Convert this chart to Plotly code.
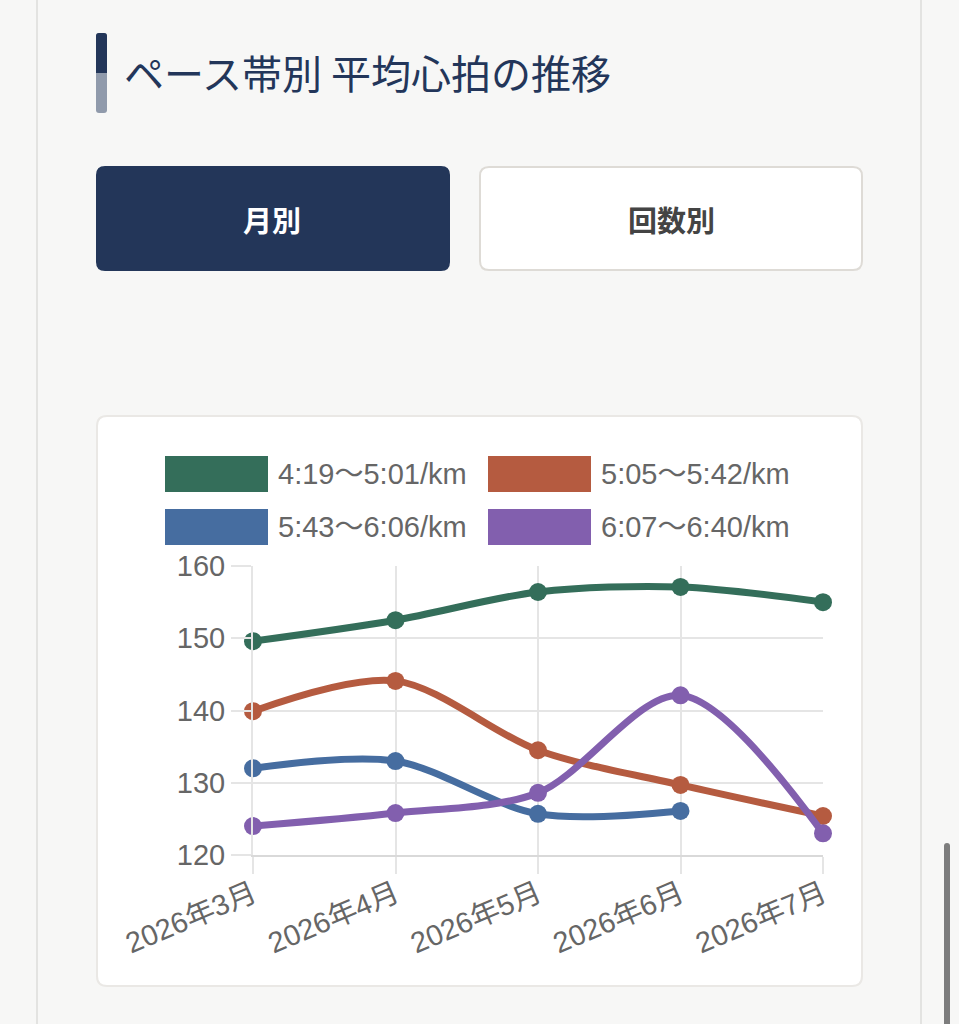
import plotly.graph_objects as go

# ---- data ----
months = ["2026年3月", "2026年4月", "2026年5月", "2026年6月", "2026年7月"]
series_names = ["4:19〜5:01/km", "5:05〜5:42/km", "5:43〜6:06/km", "6:07〜6:40/km"]
pace_a = [149.6, 152.5, 156.4, 157.1, 155.0]
pace_b = [139.9, 144.1, 134.5, 129.7, 125.4]
pace_c = [132.0, 133.0, 125.7, 126.1, None]
pace_d = [124.0, 125.8, 128.6, 142.1, 123.0]
series_values = [pace_a, pace_b, pace_c, pace_d]
series_colors = ["#346e5a", "#b55b40", "#466da0", "#825fae"]
y_ticks = [120, 130, 140, 150, 160]
title_text = "ペース帯別 平均心拍の推移"
button_labels = ["月別", "回数別"]

W, H = 959, 1024


def px(x):
    return x / W


def py(y):
    return 1 - y / H


def rrect(x0, y0, x1, y1, r):
    pts = [
        f"M {px(x0 + r)},{py(y0)}",
        f"L {px(x1 - r)},{py(y0)}",
        f"Q {px(x1)},{py(y0)} {px(x1)},{py(y0 + r)}",
        f"L {px(x1)},{py(y1 - r)}",
        f"Q {px(x1)},{py(y1)} {px(x1 - r)},{py(y1)}",
        f"L {px(x0 + r)},{py(y1)}",
        f"Q {px(x0)},{py(y1)} {px(x0)},{py(y1 - r)}",
        f"L {px(x0)},{py(y0 + r)}",
        f"Q {px(x0)},{py(y0)} {px(x0 + r)},{py(y0)}",
        "Z",
    ]
    return " ".join(pts)


fig = go.Figure()

for name, vals, col in zip(series_names, series_values, series_colors):
    fig.add_trace(go.Scatter(
        x=months, y=vals, name=name, mode="lines+markers",
        line=dict(color=col, width=7, shape="spline", smoothing=0.9),
        marker=dict(color=col, size=18),
        connectgaps=False, showlegend=False, hoverinfo="skip", cliponaxis=False,
    ))

shapes = []
# page side lines
shapes.append(dict(type="line", xref="paper", yref="paper", x0=px(37), x1=px(37), y0=0, y1=1,
                   line=dict(color="#e3e3e1", width=2), layer="below"))
shapes.append(dict(type="line", xref="paper", yref="paper", x0=px(921), x1=px(921), y0=0, y1=1,
                   line=dict(color="#e3e3e1", width=2), layer="below"))
# scrollbar
shapes.append(dict(type="path", xref="paper", yref="paper", path=rrect(944, 843, 950, 1030, 3),
                   fillcolor="#7d7d7d", line=dict(width=0), layer="below"))
# title bar
shapes.append(dict(type="path", xref="paper", yref="paper", path=rrect(96, 33, 107, 113, 3),
                   fillcolor="#909aab", line=dict(width=0), layer="below"))
shapes.append(dict(type="path", xref="paper", yref="paper", path=rrect(96, 33, 107, 73, 3),
                   fillcolor="#233659", line=dict(width=0), layer="below"))
shapes.append(dict(type="rect", xref="paper", yref="paper", x0=px(96), x1=px(107), y0=py(73), y1=py(66),
                   fillcolor="#233659", line=dict(width=0), layer="below"))
# buttons
shapes.append(dict(type="path", xref="paper", yref="paper", path=rrect(96, 166, 450, 271, 9),
                   fillcolor="#233659", line=dict(width=0), layer="below"))
shapes.append(dict(type="path", xref="paper", yref="paper", path=rrect(480, 167, 862, 270, 9),
                   fillcolor="#ffffff", line=dict(color="#dedbd6", width=2), layer="below"))
# chart card
shapes.append(dict(type="path", xref="paper", yref="paper", path=rrect(97, 416, 862, 986, 10),
                   fillcolor="#ffffff", line=dict(color="#eae8e5", width=2), layer="below"))

# legend swatches
leg_pos = [(165, 456), (488, 456), (165, 509), (488, 509)]
annotations = []
for (lx, ly), name, col in zip(leg_pos, series_names, series_colors):
    shapes.append(dict(type="rect", xref="paper", yref="paper", x0=px(lx), x1=px(lx + 103),
                       y0=py(ly + 36), y1=py(ly), fillcolor=col, line=dict(width=0)))
    annotations.append(dict(xref="paper", yref="paper", x=px(lx + 111), y=py(ly + 18), text=name,
                            showarrow=False, xanchor="left", yanchor="middle",
                            font=dict(family="Liberation Sans, Noto Sans CJK JP", size=29, color="#666666")))

annotations.append(dict(xref="paper", yref="paper", x=px(122), y=py(72), text=title_text,
                        showarrow=False, xanchor="left", yanchor="middle",
                        font=dict(family="Noto Sans CJK JP", size=40, color="#23365a")))
annotations.append(dict(xref="paper", yref="paper", x=px(272), y=py(219), text="<b>" + button_labels[0] + "</b>",
                        showarrow=False, xanchor="center", yanchor="middle",
                        font=dict(family="Noto Sans CJK JP", size=29, color="#ffffff")))
annotations.append(dict(xref="paper", yref="paper", x=px(671), y=py(219), text="<b>" + button_labels[1] + "</b>",
                        showarrow=False, xanchor="center", yanchor="middle",
                        font=dict(family="Noto Sans CJK JP", size=29, color="#444444")))

tick_font = dict(family="Liberation Sans, Noto Sans CJK JP", size=29, color="#666666")

fig.update_layout(
    width=W, height=H,
    margin=dict(l=0, r=0, t=0, b=0, autoexpand=False),
    paper_bgcolor="#f7f7f6",
    plot_bgcolor="#ffffff",
    shapes=shapes,
    annotations=annotations,
    showlegend=False,
    xaxis=dict(
        domain=[px(253), px(823)],
        type="category", range=[0, len(months) - 1],
        showgrid=True, gridcolor="#e5e5e5", gridwidth=2,
        ticks="outside", ticklen=17, tickwidth=2, tickcolor="#e5e5e5",
        tickangle=-23, tickfont=tick_font, automargin=False, ticklabelstandoff=-8,
        showline=True, linecolor="#d9d9d9", linewidth=2,
        zeroline=False, fixedrange=True,
    ),
    yaxis=dict(
        domain=[py(855), py(566)],
        range=[120, 160], tickvals=y_ticks,
        showgrid=True, gridcolor="#e5e5e5", gridwidth=2,
        ticks="outside", ticklen=20, tickwidth=2, tickcolor="#e5e5e5",
        tickfont=tick_font, automargin=False,
        showline=True, linecolor="#e5e5e5", linewidth=2,
        zeroline=False, fixedrange=True,
    ),
)

fig.write_html("out.html", config={"displayModeBar": False},
               post_script="document.body.style.margin='0';document.body.style.overflow='hidden';")
